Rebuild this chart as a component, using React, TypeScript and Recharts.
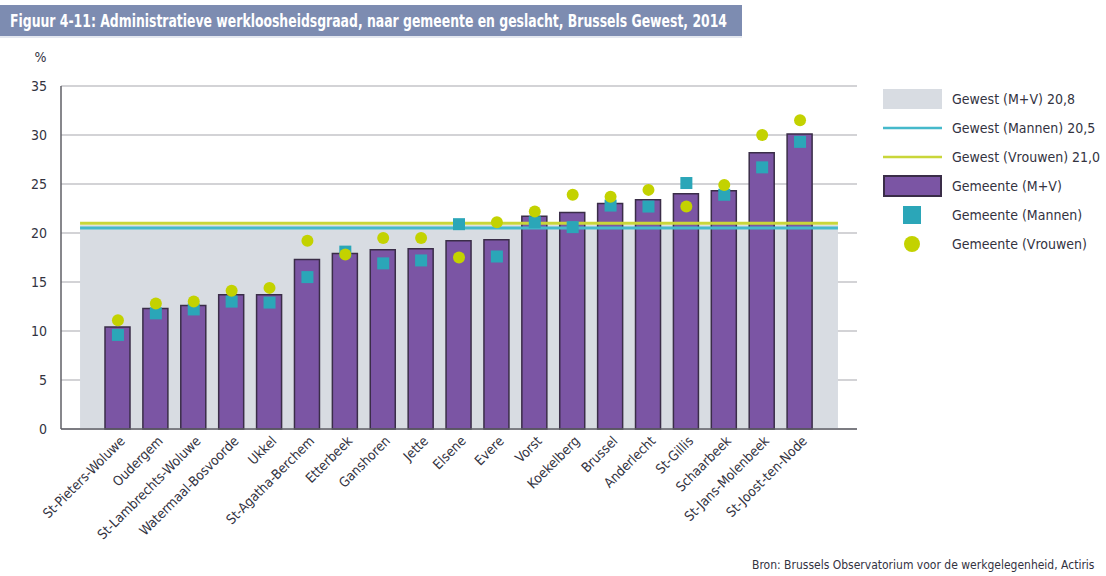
import React from "react";
import {
  ComposedChart,
  Bar,
  Scatter,
  XAxis,
  YAxis,
  CartesianGrid,
  ReferenceArea,
  ReferenceLine,
} from "recharts";

const gemeenten = [
  "St-Pieters-Woluwe",
  "Oudergem",
  "St-Lambrechts-Woluwe",
  "Watermaal-Bosvoorde",
  "Ukkel",
  "St-Agatha-Berchem",
  "Etterbeek",
  "Ganshoren",
  "Jette",
  "Elsene",
  "Evere",
  "Vorst",
  "Koekelberg",
  "Brussel",
  "Anderlecht",
  "St-Gillis",
  "Schaarbeek",
  "St-Jans-Molenbeek",
  "St-Joost-ten-Node",
];
const totaal = [10.4, 12.3, 12.6, 13.7, 13.7, 17.3, 17.9, 18.3, 18.4, 19.2, 19.3, 21.7, 22.1, 23.0, 23.4, 24.0, 24.3, 28.2, 30.1];
const mannen = [9.6, 11.8, 12.2, 13.0, 12.9, 15.5, 18.1, 16.9, 17.2, 20.9, 17.6, 21.1, 20.6, 22.8, 22.7, 25.1, 23.9, 26.7, 29.3];
const vrouwen = [11.1, 12.8, 13.0, 14.1, 14.4, 19.2, 17.8, 19.5, 19.5, 17.5, 21.1, 22.2, 23.9, 23.7, 24.4, 22.7, 24.9, 30.0, 31.5];

const gewestTotaal = 20.8;
const gewestMannen = 20.5;
const gewestVrouwen = 21.0;
const yTicks = [0, 5, 10, 15, 20, 25, 30, 35];

const TITLE = "Figuur 4-11: Administratieve werkloosheidsgraad, naar gemeente en geslacht, Brussels Gewest, 2014";
const SOURCE = "Bron: Brussels Observatorium voor de werkgelegenheid, Actiris";

const FONT = "'DejaVu Sans Condensed', 'Liberation Sans Narrow', 'Open Sans', sans-serif";
const TEXT = "#33333f";
const PURPLE = "#7b55a4";
const PURPLE_EDGE = "#3a2d48";
const TEAL = "#2ba6b8";
const TEAL_LINE = "#45b9cb";
const LIME = "#c3d200";
const LIME_LINE = "#c9d63a";
const GREY_AREA = "#d8dce2";

const n = gemeenten.length;

const data = gemeenten.map((name, i) => ({
  name,
  totaal: totaal[i],
  mannen: mannen[i],
  vrouwen: vrouwen[i],
}));

const fmt = (v: number) => v.toFixed(1).replace(".", ",");

// grey region reaches half a band past the outer bars
const SpanArea = (props: any) => {
  const { x, y, width, height } = props;
  if (x == null || width == null) return null;
  const half = width / n / 2;
  return <rect x={x - half} y={y} width={width + 2 * half} height={height} fill={GREY_AREA} />;
};

// region lines: from centre of first/last bar, extend one band outwards
const spanLine = (color: string) => (props: any) => {
  const { x1, x2, y1, y2 } = props;
  if (x1 == null || x2 == null) return null;
  const band = (x2 - x1) / (n - 1);
  return <line x1={x1 - band} x2={x2 + band} y1={y1} y2={y2} stroke={color} strokeWidth={3} />;
};

const XTick = (props: any) => {
  const { x, y, payload } = props;
  const px = x + 5;
  const py = y + 6;
  return (
    <text
      x={px}
      y={py}
      transform={`rotate(-45 ${px} ${py})`}
      textAnchor="end"
      dominantBaseline="middle"
      fontSize={13.5}
      fontFamily={FONT}
      fill={TEXT}
    >
      {payload.value}
    </text>
  );
};

const Square = (props: any) => {
  const { cx, cy } = props;
  if (cx == null || cy == null) return null;
  return <rect x={cx - 6} y={cy - 6} width={12} height={12} fill={TEAL} />;
};

const Dot = (props: any) => {
  const { cx, cy } = props;
  if (cx == null || cy == null) return null;
  return <circle cx={cx} cy={cy} r={6} fill={LIME} />;
};

const legendItems = [
  { label: `Gewest (M+V) ${fmt(gewestTotaal)}`, kind: "area" },
  { label: `Gewest (Mannen) ${fmt(gewestMannen)}`, kind: "tealLine" },
  { label: `Gewest (Vrouwen) ${fmt(gewestVrouwen)}`, kind: "limeLine" },
  { label: "Gemeente (M+V)", kind: "bar" },
  { label: "Gemeente (Mannen)", kind: "square" },
  { label: "Gemeente (Vrouwen)", kind: "circle" },
];

function LegendIcon({ kind }: { kind: string }) {
  return (
    <svg width={60} height={24} style={{ display: "block" }}>
      {kind === "area" && <rect x={0} y={2} width={59} height={20} fill={GREY_AREA} />}
      {kind === "tealLine" && <line x1={0} x2={59} y1={12} y2={12} stroke={TEAL_LINE} strokeWidth={2.5} />}
      {kind === "limeLine" && <line x1={0} x2={59} y1={12} y2={12} stroke={LIME_LINE} strokeWidth={2.5} />}
      {kind === "bar" && <rect x={1} y={2} width={57} height={20} fill={PURPLE} stroke={PURPLE_EDGE} strokeWidth={2} />}
      {kind === "square" && <rect x={20} y={3} width={18} height={18} fill={TEAL} />}
      {kind === "circle" && <circle cx={29} cy={12} r={8} fill={LIME} />}
    </svg>
  );
}

export default function App() {
  return (
    <div
      style={{
        position: "absolute",
        left: 0,
        top: 0,
        width: 1106,
        height: 576,
        overflow: "hidden",
        background: "#fff",
        fontFamily: FONT,
      }}
    >
      <svg width={1106} height={33} style={{ position: "absolute", left: 0, top: 5 }}>
        <rect x={0} y={0} width={742} height={31} fill="#7d8cb1" />
        <rect x={0} y={31} width={742} height={2} fill="#e4e8f0" />
        <text
          x={10}
          y={22}
          textLength={717}
          lengthAdjust="spacingAndGlyphs"
          fontSize={17}
          fontWeight="bold"
          fontFamily={FONT}
          fill="#fff"
        >
          {TITLE}
        </text>
      </svg>

      <ComposedChart
        width={1106}
        height={576}
        data={data}
        margin={{ top: 86, right: 249, bottom: 0, left: 20 }}
      >
        <XAxis
          dataKey="name"
          interval={0}
          height={147}
          padding={{ left: 38, right: 38 }}
          tickLine={false}
          tickSize={0}
          tickMargin={4}
          axisLine={{ stroke: "#5f5f66", strokeWidth: 1.5 }}
          tick={<XTick />}
        />
        <YAxis
          domain={[0, 35]}
          ticks={yTicks}
          width={41}
          tickLine={false}
          tickMargin={8}
          axisLine={{ stroke: "#5f5f66", strokeWidth: 1.5 }}
          tick={{ fontSize: 14, fill: TEXT, fontFamily: FONT }}
          label={{ value: "%", position: "top", offset: 24, fontSize: 14, fill: TEXT, fontFamily: FONT }}
        />
        <ReferenceArea
          x1={gemeenten[0]}
          x2={gemeenten[n - 1]}
          y1={0}
          y2={gewestTotaal}
          shape={<SpanArea />}
          ifOverflow="visible"
        />
        <CartesianGrid vertical={false} stroke="#c4c4c8" strokeWidth={1.5} />
        <Bar
          dataKey="totaal"
          barSize={25}
          fill={PURPLE}
          stroke={PURPLE_EDGE}
          strokeWidth={1.5}
          isAnimationActive={false}
        />
        <ReferenceLine
          segment={[
            { x: gemeenten[0], y: gewestMannen },
            { x: gemeenten[n - 1], y: gewestMannen },
          ]}
          shape={spanLine(TEAL_LINE)}
          ifOverflow="visible"
        />
        <ReferenceLine
          segment={[
            { x: gemeenten[0], y: gewestVrouwen },
            { x: gemeenten[n - 1], y: gewestVrouwen },
          ]}
          shape={spanLine(LIME_LINE)}
          ifOverflow="visible"
        />
        <Scatter dataKey="mannen" shape={<Square />} isAnimationActive={false} />
        <Scatter dataKey="vrouwen" shape={<Dot />} isAnimationActive={false} />
      </ComposedChart>

      <div style={{ position: "absolute", left: 883, top: 84, color: TEXT, fontSize: 14 }}>
        {legendItems.map((it) => (
          <div key={it.kind} style={{ display: "flex", alignItems: "center", height: 29 }}>
            <LegendIcon kind={it.kind} />
            <span style={{ marginLeft: 9, whiteSpace: "nowrap" }}>{it.label}</span>
          </div>
        ))}
      </div>

      <div
        style={{
          position: "absolute",
          left: 752,
          top: 558,
          fontSize: 12,
          color: TEXT,
          whiteSpace: "nowrap",
        }}
      >
        {SOURCE}
      </div>
    </div>
  );
}
